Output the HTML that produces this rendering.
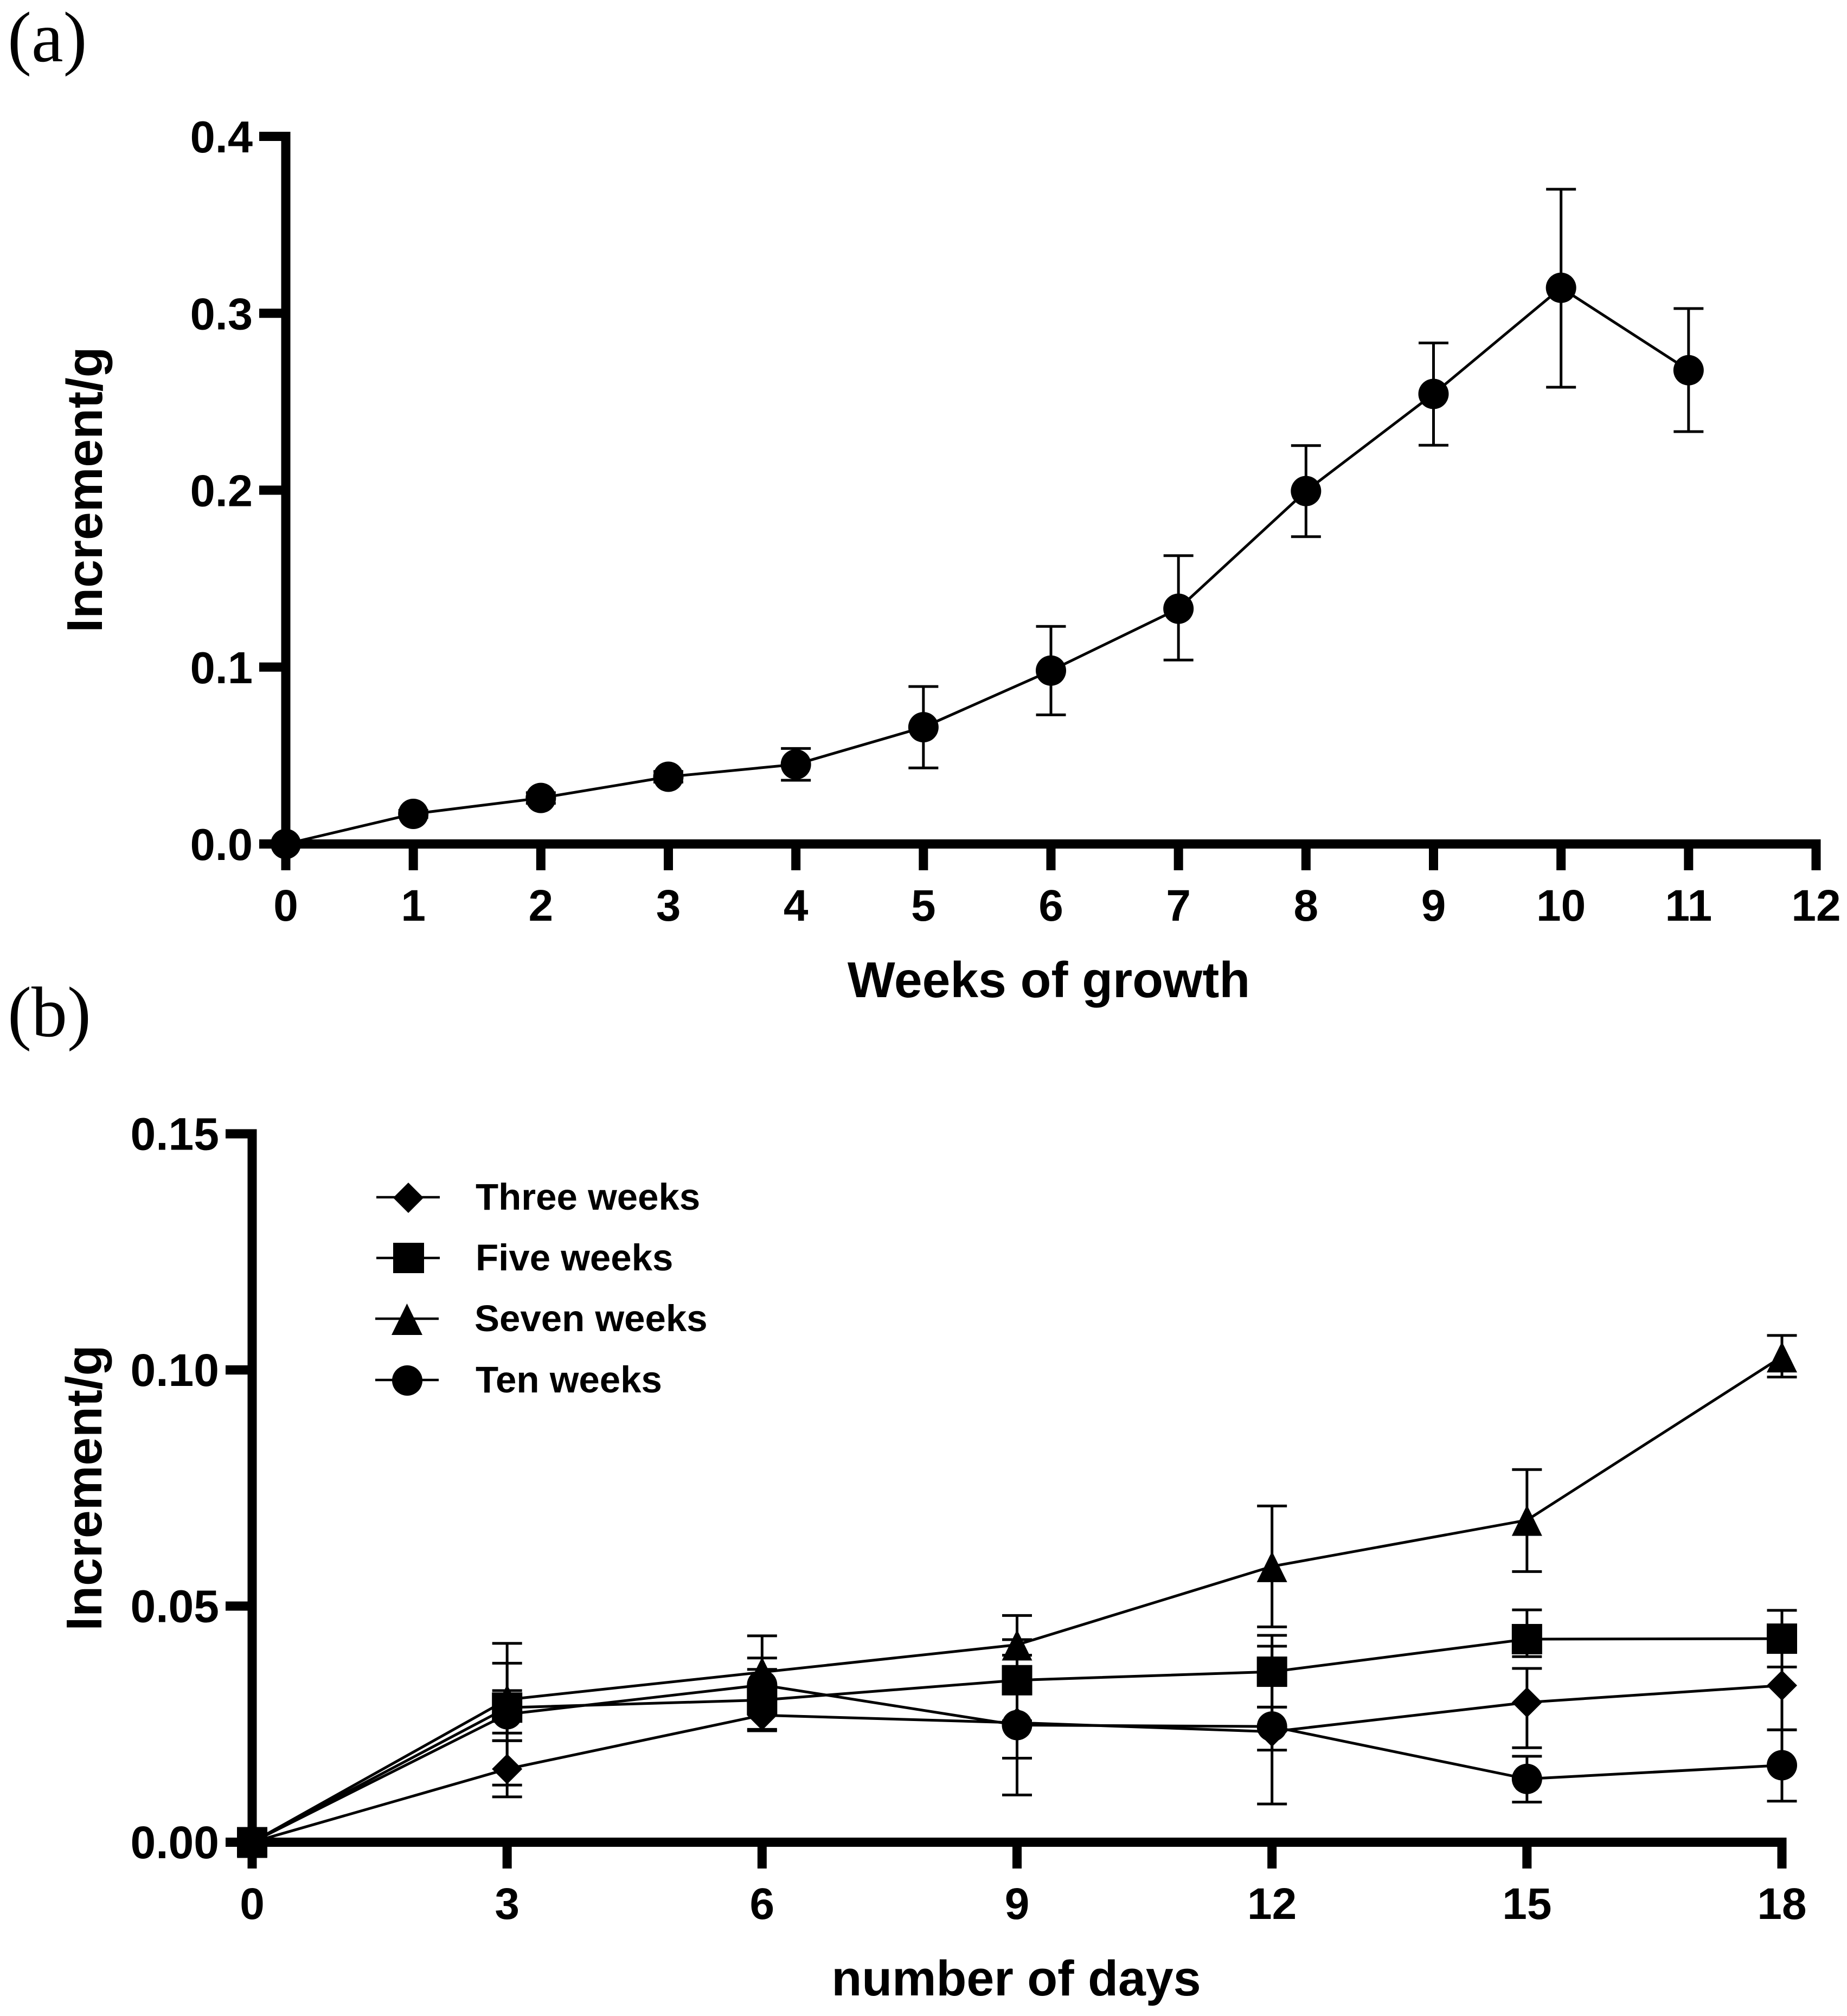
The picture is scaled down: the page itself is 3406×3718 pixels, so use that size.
<!DOCTYPE html>
<html lang="en">
<head>
<meta charset="utf-8">
<title>Increment charts</title>
<style>
  html, body { margin: 0; padding: 0; background: #fff; }
  svg { display: block; }
  text { font-family: "Liberation Sans", sans-serif; font-weight: bold; fill: #000; }
  .panel-label { font-family: "Liberation Serif", serif; font-weight: normal; font-size: 132px; }
  .axis-title { font-size: 93px; }
  .legend-text { font-size: 69px; }
</style>
</head>
<body>
<svg id="figure" xmlns="http://www.w3.org/2000/svg" width="3406" height="3718" viewBox="0 0 3406 3718">
  <rect x="0" y="0" width="3406" height="3718" fill="#fff"/>
  <text class="panel-label" x="14" y="113">(a)</text>
  <text class="panel-label" x="14" y="1911">(b)</text>
  <text class="axis-title" x="1934" y="1839" text-anchor="middle">Weeks of growth</text>
  <text class="axis-title" transform="translate(188 903) rotate(-90)" text-anchor="middle">Increment/g</text>
  <text class="axis-title" x="1874" y="3680" text-anchor="middle" style="font-size:91.5px">number of days</text>
  <text class="axis-title" transform="translate(187 2744) rotate(-90)" text-anchor="middle">Increment/g</text>

  <g id="panel-a"></g>
  <g id="panel-b"></g>

  <g>
    <g>
      <line x1="694" x2="811" y1="2208" y2="2208" stroke="#000" stroke-width="4.5"/>
      <polygon points="753,2181 781,2209 753,2237 725,2209" fill="#000"/>
      <text class="legend-text" x="877" y="2231">Three weeks</text>
    </g>
    <g>
      <line x1="694" x2="811" y1="2320" y2="2320" stroke="#000" stroke-width="4.5"/>
      <rect x="725" y="2292" width="57" height="56" fill="#000"/>
      <text class="legend-text" x="877" y="2343">Five weeks</text>
    </g>
    <g>
      <line x1="692" x2="809" y1="2432" y2="2432" stroke="#000" stroke-width="4.5"/>
      <polygon points="750.5,2404 779,2462 722,2462" fill="#000"/>
      <text class="legend-text" x="875" y="2455">Seven weeks</text>
    </g>
    <g>
      <line x1="692" x2="809" y1="2545" y2="2545" stroke="#000" stroke-width="4.5"/>
      <circle cx="751" cy="2546" r="28" fill="#000"/>
      <text class="legend-text" x="877" y="2568">Ten weeks</text>
    </g>
  </g>
</svg>

<script>
/* Panel (a) data */
const aWeeks = [0, 1, 2, 3, 4, 5, 6, 7, 8, 9, 10, 11];
const aMean  = [0, 0.017, 0.026, 0.038, 0.045, 0.066, 0.098, 0.133, 0.1995, 0.2544, 0.3144, 0.2678];
const aHigh  = [0, 0.019, 0.029, 0.041, 0.054, 0.089, 0.123, 0.163, 0.2252, 0.2832, 0.3701, 0.3027];
const aLow   = [0, 0.015, 0.023, 0.035, 0.036, 0.043, 0.073, 0.104, 0.1737, 0.2254, 0.2582, 0.2331];
const aXTicks = [0, 1, 2, 3, 4, 5, 6, 7, 8, 9, 10, 11, 12];
const aXTickLabels = ["0", "1", "2", "3", "4", "5", "6", "7", "8", "9", "10", "11", "12"];
const aYTicks = [0, 0.1, 0.2, 0.3, 0.4];
const aYTickLabels = ["0.0", "0.1", "0.2", "0.3", "0.4"];

/* Panel (b) data */
const bDays = [0, 3, 6, 9, 12, 15, 18];
const threeMean = [0, 0.0155, 0.0269, 0.0253, 0.0234, 0.0296, 0.0332];
const threeHigh = [0, 0.0215, 0.0299, 0.0328, 0.0415, 0.0368, 0.0426];
const threeLow  = [0, 0.0096, 0.0239, 0.0178, 0.0081, 0.02, 0.0238];
const fiveMean = [0, 0.0285, 0.0301, 0.0343, 0.0361, 0.043, 0.0431];
const fiveHigh = [0, 0.0379, 0.0366, 0.0429, 0.0438, 0.0492, 0.0491];
const fiveLow  = [0, 0.0215, 0.0236, 0.0257, 0.0286, 0.0393, 0.0371];
const sevenMean = [0, 0.0302, 0.036, 0.0418, 0.0584, 0.0682, 0.1028];
const sevenHigh = [0, 0.0421, 0.0437, 0.048, 0.0712, 0.0789, 0.1073];
const sevenLow  = [0, 0.0121, 0.0283, 0.0352, 0.0456, 0.0573, 0.0985];
const tenMean = [0, 0.0271, 0.0333, 0.0248, 0.0245, 0.0134, 0.0163];
const tenHigh = [0, 0.0321, 0.039, 0.0396, 0.0286, 0.0182, 0.0238];
const tenLow  = [0, 0.0231, 0.0276, 0.01, 0.0195, 0.0085, 0.0087];
const bXTicks = [0, 3, 6, 9, 12, 15, 18];
const bXTickLabels = ["0", "3", "6", "9", "12", "15", "18"];
const bYTicks = [0, 0.05, 0.1, 0.15];
const bYTickLabels = ["0.00", "0.05", "0.10", "0.15"];

const SVG_NS = "http://www.w3.org/2000/svg";

/* Axis functions */
function xA(v) { return 527 + (v / 12) * (3349 - 527); }
function yA(v) { return 1556.5 - (v / 0.4) * (1556.5 - 251.5); }
function xB(v) { return 465 + (v / 18) * (3286 - 465); }
function yB(v) { return 3397.5 - (v / 0.15) * (3397.5 - 2091); }

function make(tag, parent, name, attrs, txt) {
  const el = document.createElementNS(SVG_NS, tag);
  
  
  for (const k in attrs) { el.setAttribute(k, attrs[k]); }
  if (txt !== undefined) { el.textContent = txt; }
  parent.appendChild(el);
  return el;
}

function drawAxes(g, prefix, xF, yF, xTicks, xLabels, yTicks, yLabels, o) {
  const yTop = yF(yTicks[yTicks.length - 1]);
  const yZero = yF(yTicks[0]);
  const half = o.axisW / 2;
  const xEnd = xF(xTicks[xTicks.length - 1]);
  make('rect', g, prefix + '-y-axis-line', { x: xF(xTicks[0]) - half, y: yTop - half, width: o.axisW, height: yZero - yTop + half, fill: '#000' });
  make('rect', g, prefix + '-x-axis-line', { x: xF(xTicks[0]), y: yZero - half, width: xEnd - xF(xTicks[0]) + half, height: o.axisW, fill: '#000' });
  yTicks.forEach((t, i) => {
    make('rect', g, prefix + '-y-tick-' + yLabels[i], { x: o.yTickLeft, y: yF(t) - half, width: xF(xTicks[0]) - o.yTickLeft, height: o.axisW, fill: '#000' });
    make('text', g, prefix + '-y-tick-label-' + yLabels[i], { x: o.yLabelX, y: yF(t) + 29.5, 'text-anchor': 'end', style: 'font-size:' + o.yFontSize + 'px' }, yLabels[i]);
  });
  xTicks.forEach((t, i) => {
    make('rect', g, prefix + '-x-tick-' + xLabels[i], { x: xF(t) - half, y: yZero, width: o.axisW, height: o.xTickBottom - yZero, fill: '#000' });
    make('text', g, prefix + '-x-tick-label-' + xLabels[i], { x: xF(t), y: o.xLabelY, 'text-anchor': 'middle', style: 'font-size:' + o.fontSize + 'px' }, xLabels[i]);
  });
}

function drawError(g, name, x, yHigh, yLow, capHalf, w) {
  if (yHigh === yLow) { return; }
  make('line', g, name + '-stem', { x1: x, x2: x, y1: yHigh, y2: yLow, stroke: '#000', 'stroke-width': w });
  make('line', g, name + '-cap-high', { x1: x - capHalf, x2: x + capHalf, y1: yHigh, y2: yHigh, stroke: '#000', 'stroke-width': w });
  make('line', g, name + '-cap-low', { x1: x - capHalf, x2: x + capHalf, y1: yLow, y2: yLow, stroke: '#000', 'stroke-width': w });
}

function drawMarker(g, name, kind, x, y) {
  const s = 28;
  if (kind === 'circle') {
    make('circle', g, name, { cx: x, cy: y, r: s, fill: '#000' });
  } else if (kind === 'square') {
    make('rect', g, name, { x: x - s, y: y - s, width: 2 * s, height: 2 * s, fill: '#000' });
  } else if (kind === 'diamond') {
    make('polygon', g, name, { points: [x, y - s, x + s, y, x, y + s, x - s, y].join(' '), fill: '#000' });
  } else {
    make('polygon', g, name, { points: [x, y - 28, x + s, y + 29, x - s, y + 29].join(' '), fill: '#000' });
  }
}

function drawSeries(g, prefix, kind, xs, mean, high, low, xF, yF, lw) {
  const pts = xs.map((x, i) => xF(x) + ',' + yF(mean[i])).join(' ');
  xs.forEach((x, i) => {
    drawError(g, prefix + '-error-' + x, xF(x), yF(high[i]), yF(low[i]), 27.5, 5);
  });
  make('polyline', g, prefix + '-line', { points: pts, fill: 'none', stroke: '#000', 'stroke-width': lw, 'stroke-linejoin': 'round' });
  xs.forEach((x, i) => {
    drawMarker(g, prefix + '-point-' + x, kind, xF(x), yF(mean[i]));
  });
}

const gA = document.getElementById('panel-a');
drawAxes(gA, 'panel-a', xA, yA, aXTicks, aXTickLabels, aYTicks, aYTickLabels,
  { axisW: 17, yTickLeft: 478, yLabelX: 466, xTickBottom: 1605, xLabelY: 1698, fontSize: 82, yFontSize: 83 });
drawSeries(gA, 'growth', 'circle', aWeeks, aMean, aHigh, aLow, xA, yA, 5);

const gB = document.getElementById('panel-b');
drawAxes(gB, 'panel-b', xB, yB, bXTicks, bXTickLabels, bYTicks, bYTickLabels,
  { axisW: 17, yTickLeft: 416, yLabelX: 404, xTickBottom: 3446, xLabelY: 3539, fontSize: 82, yFontSize: 84 });
drawSeries(gB, 'three-weeks', 'diamond', bDays, threeMean, threeHigh, threeLow, xB, yB, 5);
drawSeries(gB, 'five-weeks', 'square', bDays, fiveMean, fiveHigh, fiveLow, xB, yB, 5);
drawSeries(gB, 'seven-weeks', 'triangle', bDays, sevenMean, sevenHigh, sevenLow, xB, yB, 5);
drawSeries(gB, 'ten-weeks', 'circle', bDays, tenMean, tenHigh, tenLow, xB, yB, 5);
</script>
</body>
</html>
